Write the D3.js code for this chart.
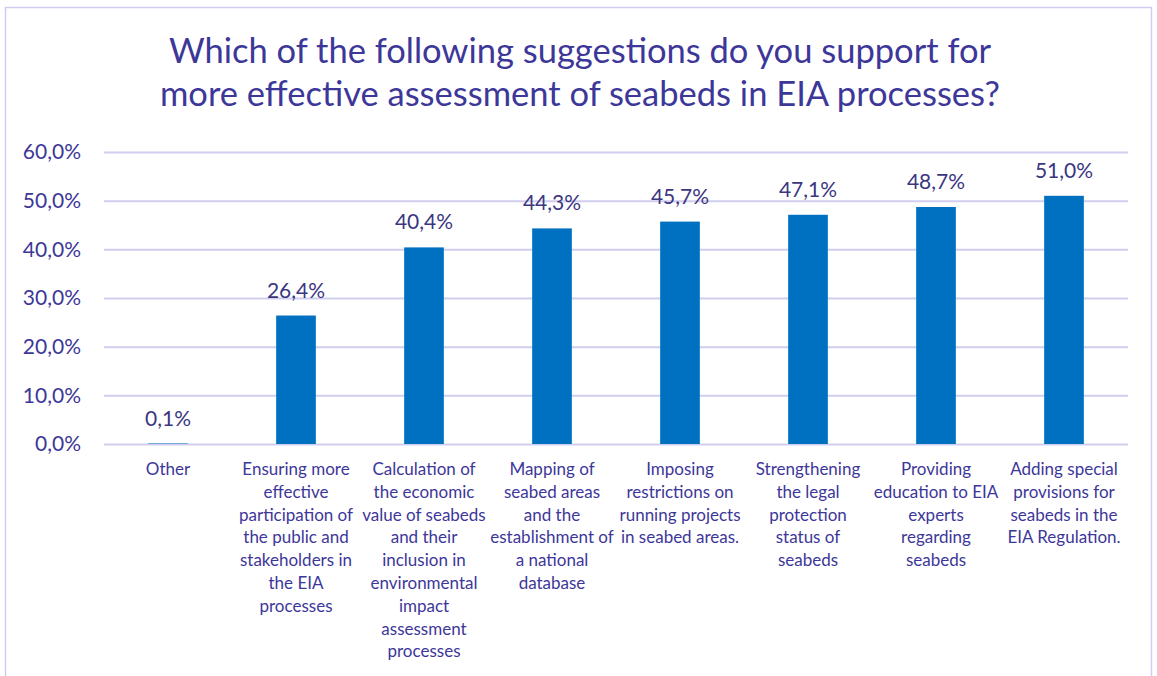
<!DOCTYPE html>
<html>
<head>
<meta charset="utf-8">
<script src="https://cdn.jsdelivr.net/npm/d3@7"></script>
<style>
  html, body { margin: 0; padding: 0; background: #fff; }
  svg { display: block; font-family: Lato, "Open Sans", sans-serif; }
</style>
</head>
<body>
<svg id="chart" width="1157" height="676"></svg>
<script>
// Survey responses: share of respondents supporting each suggestion
const categories = [
  ["Other"],
  ["Ensuring more", "effective", "participation of", "the public and", "stakeholders in", "the EIA", "processes"],
  ["Calculation of", "the economic", "value of seabeds", "and their", "inclusion in", "environmental", "impact", "assessment", "processes"],
  ["Mapping of", "seabed areas", "and the", "establishment of", "a national", "database"],
  ["Imposing", "restrictions on", "running projects", "in seabed areas."],
  ["Strengthening", "the legal", "protection", "status of", "seabeds"],
  ["Providing", "education to EIA", "experts", "regarding", "seabeds"],
  ["Adding special", "provisions for", "seabeds in the", "EIA Regulation."]
];
const values = [0.1, 26.4, 40.4, 44.3, 45.7, 47.1, 48.7, 51.0];
const yTicks = [0, 10, 20, 30, 40, 50, 60];
const titleLines = [
  "Which of the following suggestions do you support for",
  "more effective assessment of seabeds in EIA processes?"
];

const svg = d3.select("#chart");
const textColor = "#3d3799";
const labelColor = "#3b3680";
const gridColor = "#d0cdee";
const barColor = "#0070c0";
const pct = d => d3.format(".1f")(d).replace(".", ",") + "%";

// outer frame
svg.append("rect")
  .attr("x", 5.5).attr("y", 7.5)
  .attr("width", 1146).attr("height", 680)
  .attr("fill", "#fff").attr("stroke", gridColor).attr("stroke-width", 1.5);

// title
svg.append("g").selectAll("text").data(titleLines).join("text")
  .attr("x", 580).attr("y", (d, i) => 63 + i * 43)
  .attr("text-anchor", "middle")
  .attr("fill", textColor)
  .attr("font-size", 34.5)
  .text(d => d);

const x = d3.scaleBand()
  .domain(d3.range(values.length))
  .range([104, 1128])
  .paddingInner(0.69)
  .paddingOuter(0.345);

const y = d3.scaleLinear().domain([0, 60]).range([444, 152]);

// y gridlines and labels
const yAxis = d3.axisLeft(y)
  .tickValues(yTicks)
  .tickSize(-(1128 - 104))
  .tickPadding(23)
  .tickFormat(pct);

const gy = svg.append("g").attr("transform", "translate(104,0)").call(yAxis);
gy.select(".domain").remove();
gy.selectAll(".tick line").attr("stroke", gridColor).attr("stroke-width", 2);
gy.selectAll(".tick text")
  .attr("fill", textColor)
  .attr("font-size", 21)
  .attr("font-family", "Lato, 'Open Sans', sans-serif");

// bars
svg.append("g").selectAll("rect").data(values).join("rect")
  .attr("x", (d, i) => x(i))
  .attr("y", d => y(d))
  .attr("width", x.bandwidth())
  .attr("height", d => y(0) - y(d))
  .attr("fill", barColor);

// value labels
svg.append("g").selectAll("text").data(values).join("text")
  .attr("x", (d, i) => x(i) + x.bandwidth() / 2)
  .attr("y", d => y(d) - 18)
  .attr("text-anchor", "middle")
  .attr("fill", labelColor)
  .attr("font-size", 21)
  .text(pct);

// category labels
const lab = svg.append("g").selectAll("g").data(categories).join("g")
  .attr("transform", (d, i) => `translate(${x(i) + x.bandwidth() / 2},475)`);
lab.selectAll("text").data(d => d).join("text")
  .attr("x", 0)
  .attr("y", (d, i) => i * 22.8)
  .attr("text-anchor", "middle")
  .attr("fill", textColor)
  .attr("font-size", 17)
  .text(d => d);
</script>
</body>
</html>
